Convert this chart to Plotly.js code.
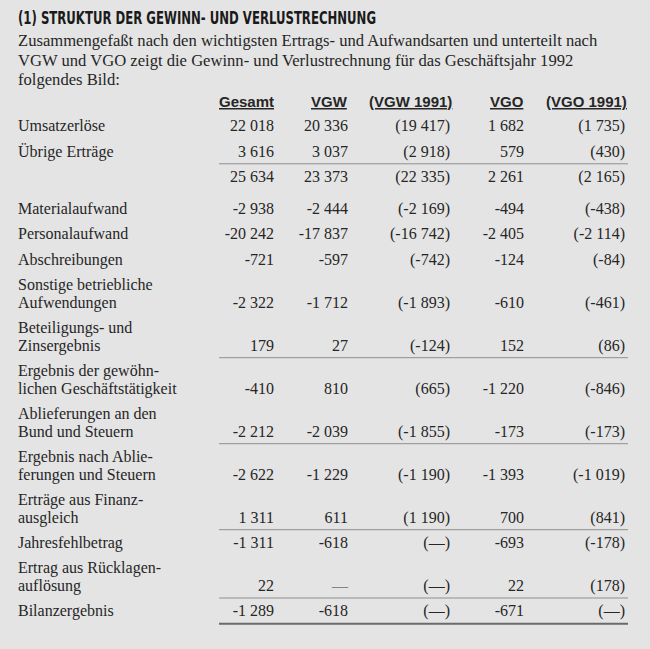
<!DOCTYPE html>
<html>
<head>
<meta charset="utf-8">
<script src="https://cdn.plot.ly/plotly-3.0.1.min.js"></script>
<style>
  html, body { margin: 0; padding: 0; background: #e4e4e4; }
  #chart { width: 650px; height: 649px; }
</style>
</head>
<body>
<div id="chart"></div>
<script>
// ---------- data ----------
const titleText = "(1) STRUKTUR DER GEWINN- UND VERLUSTRECHNUNG";
const introLines = [
  "Zusammengefaßt nach den wichtigsten Ertrags- und Aufwandsarten und unterteilt nach",
  "VGW und VGO zeigt die Gewinn- und Verlustrechnung für das Geschäftsjahr 1992",
  "folgendes Bild:"
];
const columnHeaders = ["Gesamt", "VGW", "(VGW 1991)", "VGO", "(VGO 1991)"];
const rowLabels = [
  "Umsatzerlöse",
  "Übrige Erträge",
  "",
  "Materialaufwand",
  "Personalaufwand",
  "Abschreibungen",
  "Sonstige betriebliche\nAufwendungen",
  "Beteiligungs- und\nZinsergebnis",
  "Ergebnis der gewöhn-\nlichen Geschäftstätigkeit",
  "Ablieferungen an den\nBund und Steuern",
  "Ergebnis nach Ablie-\nferungen und Steuern",
  "Erträge aus Finanz-\nausgleich",
  "Jahresfehlbetrag",
  "Ertrag aus Rücklagen-\nauflösung",
  "Bilanzergebnis"
];
const gesamt  = [22018, 3616, 25634, -2938, -20242, -721, -2322, 179, -410, -2212, -2622, 1311, -1311, 22, -1289];
const vgw     = [20336, 3037, 23373, -2444, -17837, -597, -1712, 27, 810, -2039, -1229, 611, -618, null, -618];
const vgw1991 = [19417, 2918, 22335, -2169, -16742, -742, -1893, -124, 665, -1855, -1190, 1190, null, null, null];
const vgo     = [1682, 579, 2261, -494, -2405, -124, -610, 152, -1220, -173, -1393, 700, -693, 22, -671];
const vgo1991 = [1735, 430, 2165, -438, -2114, -84, -461, 86, -846, -173, -1019, 841, -178, 178, null];
const seriesList = [gesamt, vgw, vgw1991, vgo, vgo1991];
const priorYear  = [false, false, true, false, true];
const thinRuleAfterRows = [1, 7, 9, 11, 13];
const heavyRuleAfterRow = 14;

// ---------- layout constants ----------
const W = 650, H = 649;
const TEXT_COLOR = "#262626";
const X_LABEL = 18;
const COL_RIGHT = [274, 348, 450, 524, 625];
const RULE_X0 = 219, RULE_X1 = 628;
const Y_FIRST = 126, ROW_STEP = 25.3, LINE_STEP = 17.7, GAP_BEFORE = {3: 6.7};
const TEXT_SHIFT = 1.3, RULE_OFFSET = 12.5;
const TITLE_WIDTH = 358;
const SERIF = "'Liberation Serif', 'Times New Roman', serif";
const SANS = "'Liberation Sans', Arial, sans-serif";

function fmt(v, paren) {
  let s;
  if (v === null) s = "—";
  else {
    s = Math.abs(v).toString().replace(/\B(?=(\d{3})+(?!\d))/g, " ");
    if (v < 0) s = "-" + s;
  }
  return paren ? "(" + s + ")" : s;
}

// compute row geometry
const rowLineYs = [];
const rowValueY = [];
let prev = null;
rowLabels.forEach((lab, i) => {
  const start = prev === null ? Y_FIRST : prev + ROW_STEP + (GAP_BEFORE[i] || 0);
  const lines = lab.split("\n");
  const ys = lines.map((_, k) => start + k * LINE_STEP);
  rowLineYs.push(ys);
  rowValueY.push(ys[ys.length - 1]);
  prev = ys[ys.length - 1];
});

const traces = [];
// labels
const labX = [], labY = [], labT = [];
rowLabels.forEach((lab, i) => {
  lab.split("\n").forEach((ln, k) => {
    if (ln) { labX.push(X_LABEL); labY.push(rowLineYs[i][k] + TEXT_SHIFT); labT.push(ln); }
  });
});
traces.push({
  type: "scatter", mode: "text", x: labX, y: labY, text: labT,
  textposition: "middle right", cliponaxis: false, hoverinfo: "skip", showlegend: false,
  textfont: {family: SERIF, size: 16, color: TEXT_COLOR}
});
// value columns
seriesList.forEach((vals, c) => {
  traces.push({
    type: "scatter", mode: "text",
    x: vals.map(() => COL_RIGHT[c]),
    y: rowValueY.map(y => y + TEXT_SHIFT),
    text: vals.map(v => fmt(v, priorYear[c])),
    textposition: "middle left", cliponaxis: false, hoverinfo: "skip", showlegend: false,
    textfont: {family: SERIF, size: 16,
      color: vals.map(v => (v === null && !priorYear[c]) ? "#858585" : TEXT_COLOR)}
  });
});

const shapes = [];
thinRuleAfterRows.forEach(r => {
  const y = rowValueY[r] + RULE_OFFSET;
  shapes.push({type: "line", xref: "x", yref: "y", x0: RULE_X0, x1: RULE_X1, y0: y, y1: y,
    line: {color: "#8f8f8f", width: 1}});
});
{
  const y = rowValueY[heavyRuleAfterRow] + RULE_OFFSET + 0.5;
  shapes.push({type: "line", xref: "x", yref: "y", x0: RULE_X0, x1: RULE_X1, y0: y, y1: y,
    line: {color: "#6a6a6a", width: 2}});
}

const annotations = [];
const INTRO_Y = [40.8, 60.3, 79.8];
introLines.forEach((t, i) => annotations.push({
  xref: "x", yref: "y", x: X_LABEL, y: INTRO_Y[i], xanchor: "left", yanchor: "middle",
  text: t, showarrow: false, borderpad: 0, borderwidth: 0,
  font: {family: SERIF, size: 16.6, color: TEXT_COLOR}
}));
columnHeaders.forEach((t, c) => annotations.push({
  xref: "x", yref: "y", x: COL_RIGHT[c] + (priorYear[c] ? 2 : 0), y: 101, xanchor: "right", yanchor: "middle",
  text: "<u>" + t + "</u>", showarrow: false, borderpad: 0, borderwidth: 0,
  font: {family: SANS, size: 15, color: TEXT_COLOR, weight: 700}
}));

const layout = {
  width: W, height: H,
  margin: {l: 0, r: 0, t: 0, b: 0},
  paper_bgcolor: "#e4e4e4", plot_bgcolor: "#e4e4e4",
  title: {
    text: titleText, xref: "container", yref: "container",
    x: X_LABEL / W, xanchor: "left", y: 1 - 18 / H, yanchor: "middle",
    font: {family: "'DejaVu Sans Condensed', 'DejaVu Sans', sans-serif", size: 17, weight: 700, color: "#1a1a1a"}
  },
  xaxis: {range: [0, W], visible: false, fixedrange: true},
  yaxis: {range: [H, 0], visible: false, fixedrange: true},
  shapes: shapes,
  annotations: annotations,
  showlegend: false
};

Plotly.newPlot("chart", traces, layout, {staticPlot: true, displayModeBar: false}).then(gd => {
  // condense the title glyphs to the narrow headline width of the original
  const t = gd.querySelector("text.gtitle");
  if (t) {
    t.setAttribute("textLength", TITLE_WIDTH);
    t.setAttribute("lengthAdjust", "spacingAndGlyphs");
  }
});
</script>
</body>
</html>
